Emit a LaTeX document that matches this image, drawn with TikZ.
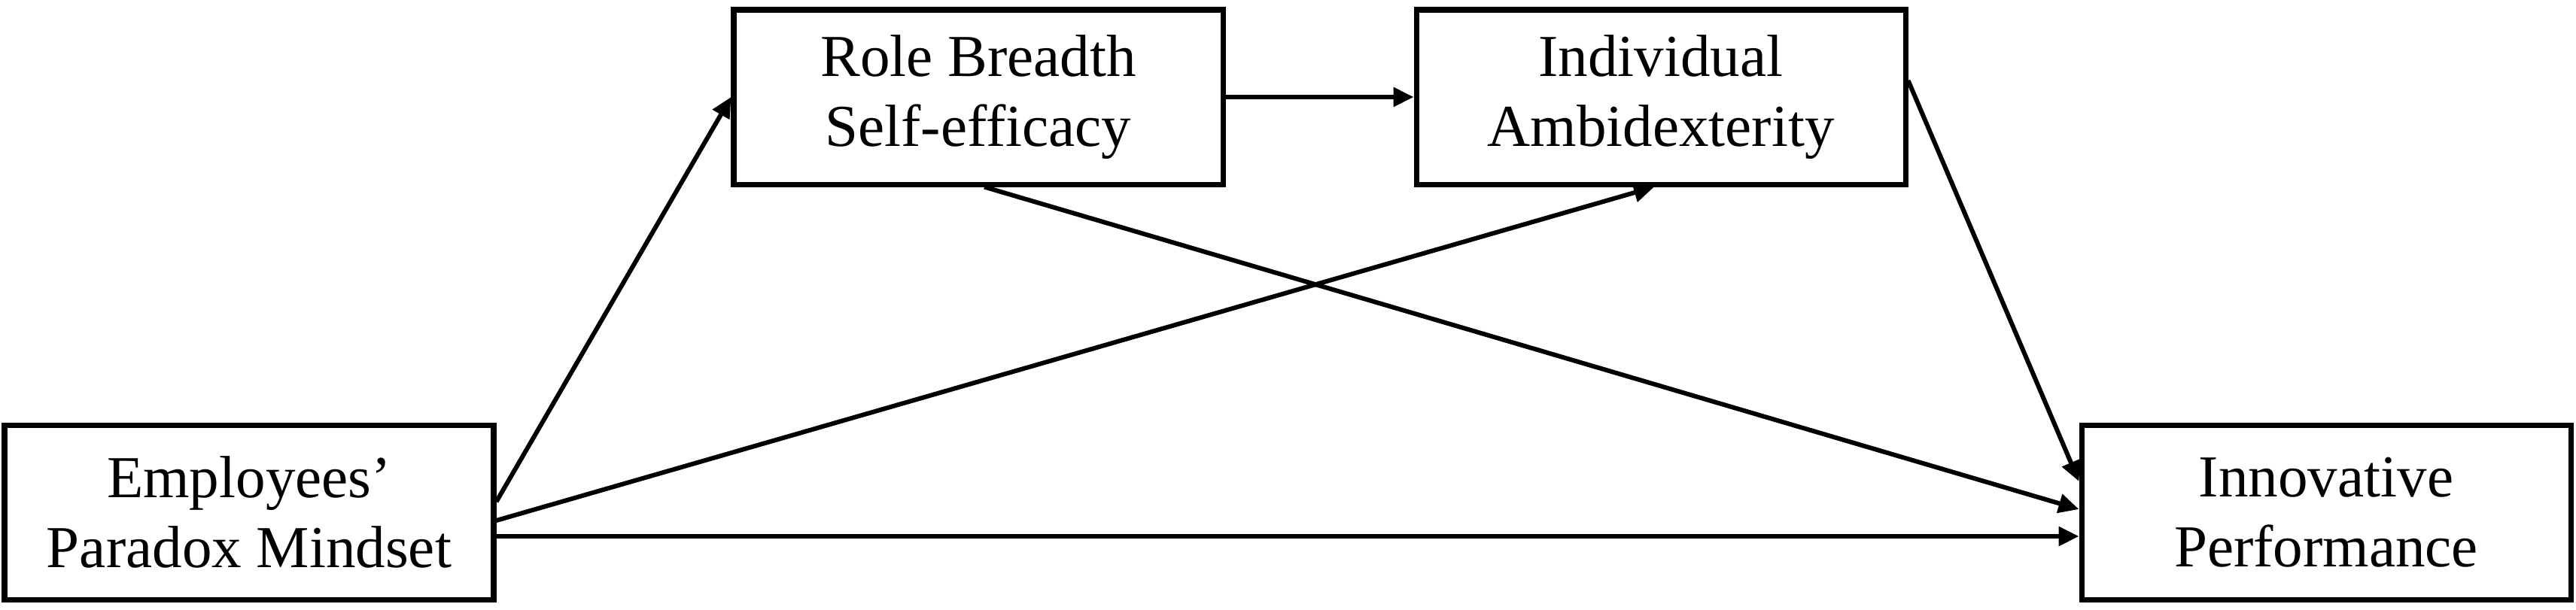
\documentclass[tikz,border=0pt]{standalone}
\usepackage{fontspec}
\setmainfont{Liberation Serif}
\usetikzlibrary{arrows.meta,positioning}

\begin{document}
\begin{tikzpicture}[->,>={Triangle[length=2.7mm,width=2.5mm]},line width=1.7pt,
    var/.style={draw,rectangle,line width=2pt,minimum width=6.5cm,minimum height=2.32cm,inner sep=0pt,align=center,font=\fontsize{22.5}{26.5}\selectfont}]
    \useasboundingbox (0,0) rectangle (34.23,-8.10);
    \node [var] (epm) at (3.31,-6.81) {Employees’\\Paradox Mindset};
    \node [var] (rbs) at (13.00,-1.29) {Role Breadth\\Self-efficacy};
    \node [var] (ia) [right=2.5cm of rbs] {Individual\\Ambidexterity};
    \node [var] (ip) at (30.91,-6.81) {Innovative\\Performance};
    \path
    ([yshift=1.4mm]epm.east) edge (rbs.west)
    ([yshift=-1.1mm]epm.east) edge ([xshift=-0.9mm]ia.south)
    ([yshift=-3.2mm]epm.east) edge ([yshift=-3.2mm]ip.west)
    (rbs.east) edge (ia.west)
    ([xshift=0.8mm]rbs.south) edge ([yshift=0.4mm]ip.west)
    ([yshift=2.2mm]ia.east) edge ([yshift=4.1mm]ip.west)
    ;
  \end{tikzpicture}
\end{document}
